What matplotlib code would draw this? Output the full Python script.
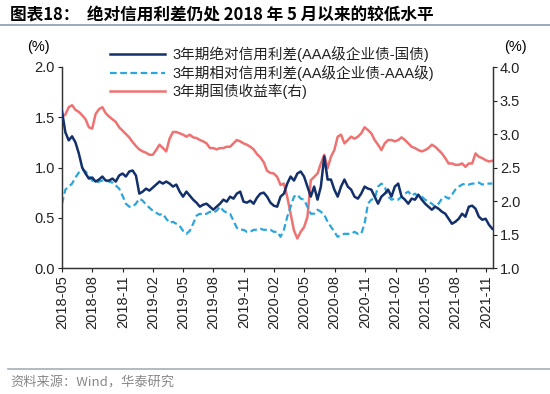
import numpy as np
import pandas as pd
import matplotlib
matplotlib.use('Agg')
import matplotlib.pyplot as plt
import matplotlib.dates as mdates

plt.rcParams['font.family'] = ['Liberation Sans', 'Noto Sans CJK SC', 'DejaVu Sans']

# ~10-day sampling, May 2018 to Nov 2021
dates = pd.date_range('2018-05-01', '2021-11-20', periods=129)

# 3Y absolute credit spread (AAA corporate - govt), %
abs_spread = [
    1.56, 1.35, 1.27, 1.31, 1.25, 1.14, 1.00, 0.94, 0.89, 0.90,
    0.86, 0.88, 0.91, 0.87, 0.87, 0.89, 0.86, 0.92, 0.94, 0.91,
    0.96, 0.97, 0.92, 0.74, 0.76, 0.79, 0.77, 0.80, 0.83, 0.86,
    0.84, 0.86, 0.84, 0.81, 0.83, 0.76, 0.71, 0.76, 0.72, 0.68,
    0.65, 0.61, 0.63, 0.64, 0.61, 0.58, 0.61, 0.64, 0.68, 0.66,
    0.71, 0.69, 0.74, 0.76, 0.66, 0.65, 0.67, 0.64, 0.70, 0.74,
    0.75, 0.71, 0.65, 0.62, 0.61, 0.71, 0.74, 0.84, 0.91, 0.87,
    0.94, 0.96, 0.91, 0.81, 0.71, 0.81, 0.68, 0.81, 1.11, 0.88,
    0.88, 0.78, 0.71, 0.81, 0.88, 0.81, 0.78, 0.71, 0.69, 0.74,
    0.81, 0.79, 0.78, 0.71, 0.64, 0.71, 0.74, 0.78, 0.71, 0.81,
    0.84, 0.71, 0.68, 0.64, 0.69, 0.68, 0.73, 0.68, 0.64, 0.61,
    0.58, 0.61, 0.59, 0.56, 0.54, 0.49, 0.44, 0.46, 0.49, 0.54,
    0.51, 0.61, 0.62, 0.59, 0.51, 0.48, 0.49, 0.43, 0.39,
]

# 3Y relative credit spread (AA corporate - AAA), %
rel_spread = [
    0.64, 0.78, 0.81, 0.84, 0.90, 0.95, 0.98, 0.96, 0.92, 0.87,
    0.85, 0.86, 0.87, 0.87, 0.86, 0.85, 0.82, 0.79, 0.72, 0.64,
    0.61, 0.61, 0.64, 0.69, 0.67, 0.63, 0.60, 0.57, 0.55, 0.53,
    0.54, 0.49, 0.45, 0.46, 0.44, 0.42, 0.37, 0.34, 0.37, 0.44,
    0.52, 0.54, 0.53, 0.54, 0.56, 0.55, 0.57, 0.61, 0.57, 0.55,
    0.54, 0.47, 0.40, 0.38, 0.38, 0.36, 0.36, 0.38, 0.38, 0.39,
    0.38, 0.38, 0.38, 0.36, 0.36, 0.31, 0.38, 0.51, 0.61, 0.71,
    0.73, 0.69, 0.68, 0.61, 0.54, 0.54, 0.58, 0.56, 0.53, 0.46,
    0.41, 0.36, 0.31, 0.33, 0.34, 0.34, 0.34, 0.36, 0.34, 0.34,
    0.44, 0.64, 0.68, 0.69, 0.81, 0.84, 0.81, 0.71, 0.68, 0.69,
    0.68, 0.71, 0.74, 0.76, 0.72, 0.74, 0.71, 0.71, 0.68, 0.66,
    0.64, 0.61, 0.64, 0.69, 0.71, 0.69, 0.73, 0.78, 0.81, 0.83,
    0.84, 0.83, 0.84, 0.84, 0.85, 0.83, 0.84, 0.84, 0.84,
]

# 3Y government bond yield, % (right axis)
gov_yield = [
    3.26, 3.29, 3.40, 3.43, 3.36, 3.33, 3.28, 3.22, 3.10, 3.08,
    3.30, 3.37, 3.40, 3.31, 3.26, 3.22, 3.18, 3.10, 3.05, 3.00,
    2.95, 2.88, 2.82, 2.77, 2.74, 2.72, 2.69, 2.69, 2.76, 2.84,
    2.79, 2.74, 2.93, 3.03, 3.03, 3.01, 2.99, 2.96, 2.99, 2.95,
    2.94, 2.91, 2.89, 2.86, 2.79, 2.79, 2.77, 2.79, 2.79, 2.81,
    2.81, 2.86, 2.91, 2.89, 2.86, 2.84, 2.81, 2.77, 2.70, 2.65,
    2.58, 2.45, 2.42, 2.41, 2.36, 2.24, 2.26, 2.06, 1.81, 1.56,
    1.44, 1.54, 1.61, 1.76, 2.31, 2.36, 2.41, 2.56, 2.69, 2.49,
    2.66, 2.76, 2.96, 2.99, 2.86, 2.91, 2.96, 2.93, 2.96, 3.01,
    3.10, 3.06, 3.01, 2.91, 2.84, 2.76, 2.86, 2.91, 2.91, 2.89,
    2.91, 2.95, 2.91, 2.86, 2.81, 2.79, 2.76, 2.74, 2.76, 2.79,
    2.84, 2.81, 2.76, 2.71, 2.64, 2.56, 2.56, 2.54, 2.54, 2.56,
    2.51, 2.56, 2.56, 2.71, 2.66, 2.64, 2.61, 2.59, 2.60,
]

labels = ['3年期绝对信用利差(AAA级企业债-国债)',
          '3年期相对信用利差(AA级企业债-AAA级)',
          '3年期国债收益率(右)']

navy = '#13306A'
cyan = '#2AA6DB'
salmon = '#EE7272'

fig = plt.figure(figsize=(5.5, 3.94), dpi=100)
ax = fig.add_axes([62 / 550, 1 - 268 / 394, (493 - 62) / 550, (268 - 67) / 394])
ax2 = ax.twinx()

l3, = ax2.plot(dates, gov_yield, color=salmon, lw=1.8)
l1, = ax.plot(dates, abs_spread, color=navy, lw=1.8, zorder=3)
l2, = ax.plot(dates, rel_spread, color=cyan, lw=1.6, dashes=(3, 1.6), zorder=2)
ax.set_zorder(ax2.get_zorder() + 1)
ax.patch.set_visible(False)

ax.set_ylim(0, 2.0)
ax.set_yticks(np.arange(0, 2.01, 0.5))
ax2.set_ylim(1.0, 4.0)
ax2.set_yticks(np.arange(1.0, 4.01, 0.5))
ax.yaxis.set_major_formatter(plt.FormatStrFormatter('%.1f'))
ax2.yaxis.set_major_formatter(plt.FormatStrFormatter('%.1f'))

ax.set_xlim(pd.Timestamp('2018-05-01'), pd.Timestamp('2021-11-22'))
ax.xaxis.set_major_locator(mdates.MonthLocator(bymonth=[2, 5, 8, 11]))
ax.xaxis.set_major_formatter(mdates.DateFormatter('%Y-%m'))
for lab in ax.get_xticklabels():
    lab.set_rotation(90)

for a in (ax, ax2):
    a.tick_params(labelsize=10.5, length=3, width=0.8, colors='#222222', pad=2)
    a.spines['top'].set_visible(False)
    for s in ('left', 'right', 'bottom'):
        a.spines[s].set_color('#333333')
        a.spines[s].set_linewidth(0.9)

fig.text(38 / 550, 1 - 47 / 394, '(%)', fontsize=10.5, ha='center', va='center')
fig.text(515 / 550, 1 - 47 / 394, '(%)', fontsize=10.5, ha='center', va='center')

leg = fig.legend([l1, l2, l3], labels, loc='upper left',
                 bbox_to_anchor=(104 / 550, 1 - 40 / 394), frameon=False,
                 fontsize=10.5, handlelength=3.8, handletextpad=0.5,
                 labelspacing=0.2, borderaxespad=0)
for t in leg.get_texts():
    t.set_color('#222222')

# title and source
fig.text(10 / 550, 1 - 15 / 394, '图表18：  绝对信用利差仍处 2018 年 5 月以来的较低水平',
         fontsize=12, fontweight='bold', ha='left', va='center',
         family=['Noto Sans CJK SC', 'DejaVu Sans'])
fig.add_artist(plt.Line2D([0, 1], [1 - 25 / 394] * 2, color='#8A9AB5', lw=1.2))
fig.add_artist(plt.Line2D([8 / 550, 1], [1 - 369 / 394] * 2, color='#A8ADB8', lw=1.2))
fig.text(10 / 550, 1 - 383 / 394, '资料来源：Wind，华泰研究', fontsize=9.5,
         color='#888888', ha='left', va='center',
         family=['Noto Sans CJK SC', 'DejaVu Sans'])

fig.savefig('out.png', dpi=100)
